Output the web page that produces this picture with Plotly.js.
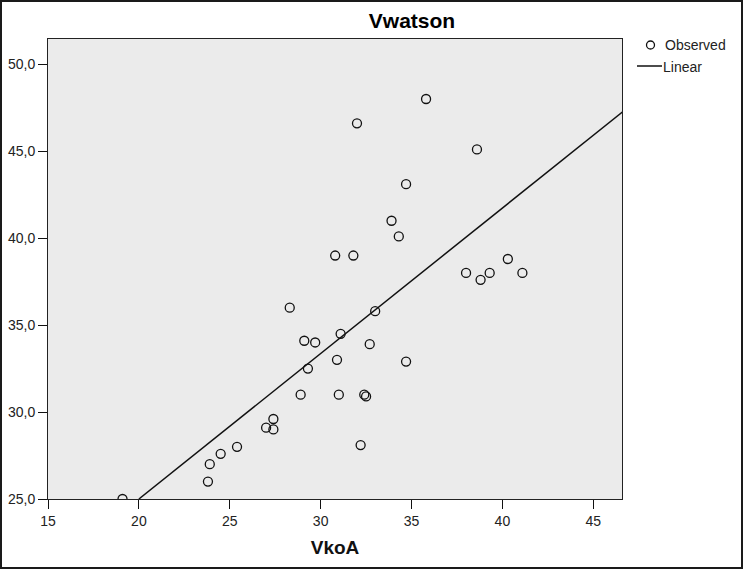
<!DOCTYPE html>
<html>
<head>
<meta charset="utf-8">
<script src="https://cdn.plot.ly/plotly-3.0.1.min.js"></script>
<style>
  html, body { margin: 0; padding: 0; background: #fff; }
  #wrap { width: 743px; height: 569px; box-sizing: border-box; border: 2px solid #1a1a1a; overflow: hidden; }
  #chart { width: 739px; height: 565px; }
</style>
</head>
<body>
<div id="wrap"><div id="chart"></div></div>
<script>
// ---- data ----
const chartTitle = "Vwatson";
const xTitle = "VkoA";
const observedX = [19.1, 23.8, 23.9, 24.5, 25.4, 27.0, 27.4, 27.4, 28.3, 28.9, 29.1, 29.7, 29.3, 30.8, 30.9, 31.0, 31.1, 31.8, 32.0, 32.2, 32.4, 32.5, 32.7, 33.0, 34.7, 33.9, 34.3, 34.7, 35.8, 38.6, 38.0, 38.8, 39.3, 40.3, 41.1];
const observedY = [25.0, 26.0, 27.0, 27.6, 28.0, 29.1, 29.0, 29.6, 36.0, 31.0, 34.1, 34.0, 32.5, 39.0, 33.0, 31.0, 34.5, 39.0, 46.6, 28.1, 31.0, 30.9, 33.9, 35.8, 32.9, 41.0, 40.1, 43.1, 48.0, 45.1, 38.0, 37.6, 38.0, 38.8, 38.0];
const linearX = [20.0, 46.6];
const linearY = [25.0, 47.25];
const xTickVals = [15, 20, 25, 30, 35, 40, 45];
const xTickText = ["15", "20", "25", "30", "35", "40", "45"];
const yTickVals = [25, 30, 35, 40, 45, 50];
const yTickText = ["25,0", "30,0", "35,0", "40,0", "45,0", "50,0"];
const legendLabels = ["Observed", "Linear"];

// ---- layout geometry ----
const W = 739, H = 565;
const M = { l: 46, r: 119, t: 37, b: 68 };
const PW = W - M.l - M.r, PH = H - M.t - M.b;
// convert reference-image pixel positions to paper coordinates
function px(xImg) { return (xImg - 2 - M.l) / PW; }
function py(yImg) { return 1 - (yImg - 2 - M.t) / PH; }

const FONT = "Liberation Sans, Arial, sans-serif";

const traces = [
  {
    x: observedX, y: observedY, type: "scatter", mode: "markers", name: legendLabels[0],
    marker: { symbol: "circle-open", size: 9, color: "#111", line: { width: 1.3, color: "#111" } },
    showlegend: false, hoverinfo: "x+y"
  },
  {
    x: linearX, y: linearY, type: "scatter", mode: "lines", name: legendLabels[1],
    line: { color: "#111", width: 1.5 }, showlegend: false
  }
];

const legY1 = 45, legY2 = 66;
const layout = {
  width: W, height: H,
  margin: M,
  paper_bgcolor: "#ffffff",
  plot_bgcolor: "#ebebeb",
  font: { family: FONT, size: 14, color: "#222" },
  title: {
    text: "<b>" + chartTitle + "</b>",
    font: { family: FONT, size: 21, color: "#000" },
    xref: "container", x: (412 - 2) / W, xanchor: "center",
    yref: "container", y: 1 - (21 - 2) / H, yanchor: "middle"
  },
  xaxis: {
    range: [15, 46.58],
    tickmode: "array", tickvals: xTickVals, ticktext: xTickText,
    ticks: "outside", ticklen: 9, tickwidth: 1, tickcolor: "#111",
    showline: true, linecolor: "#222", linewidth: 1, mirror: true,
    showgrid: false, zeroline: false,
    tickfont: { family: FONT, size: 14, color: "#222" },
    title: { text: "<b>" + xTitle + "</b>", font: { family: FONT, size: 19, color: "#111" }, standoff: 12 },
    automargin: false, fixedrange: true
  },
  yaxis: {
    range: [25, 51.45],
    tickmode: "array", tickvals: yTickVals, ticktext: yTickText,
    ticks: "outside", ticklen: 9, tickwidth: 1, tickcolor: "#111",
    showline: true, linecolor: "#222", linewidth: 1, mirror: true,
    showgrid: false, zeroline: false,
    tickfont: { family: FONT, size: 14, color: "#222" },
    automargin: false, fixedrange: true
  },
  showlegend: false,
  shapes: [
    {
      type: "circle", xref: "paper", yref: "paper",
      xsizemode: "pixel", ysizemode: "pixel",
      xanchor: px(650.5), yanchor: py(legY1),
      x0: -4, x1: 4, y0: -4, y1: 4,
      line: { color: "#111", width: 1.3 }
    },
    {
      type: "line", xref: "paper", yref: "paper",
      x0: px(637), x1: px(662), y0: py(legY2), y1: py(legY2),
      line: { color: "#111", width: 1.5 }
    }
  ],
  annotations: [
    { text: legendLabels[0], xref: "paper", yref: "paper", x: px(663), y: py(legY1), xanchor: "left", yanchor: "middle", showarrow: false, font: { family: FONT, size: 14, color: "#222" } },
    { text: legendLabels[1], xref: "paper", yref: "paper", x: px(661), y: py(legY2 + 1), xanchor: "left", yanchor: "middle", showarrow: false, font: { family: FONT, size: 14, color: "#222" } }
  ]
};

Plotly.newPlot("chart", traces, layout, { displayModeBar: false, staticPlot: true });
</script>
</body>
</html>
